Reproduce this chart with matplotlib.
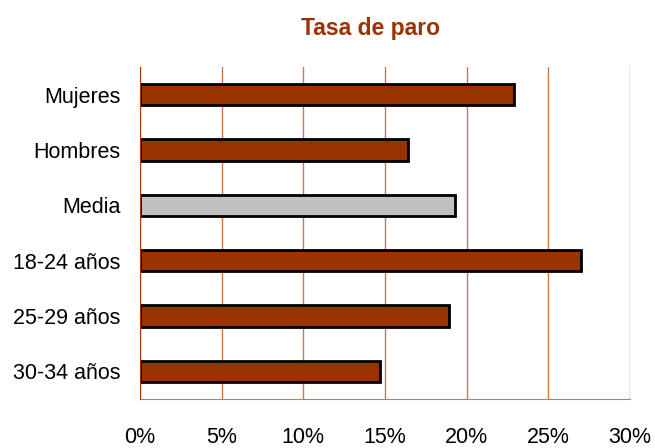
import matplotlib.pyplot as plt
from matplotlib import font_manager

# Data (unemployment rate, %)
categories = ["Mujeres", "Hombres", "Media", "18-24 años", "25-29 años", "30-34 años"]
values = [22.9, 16.4, 19.3, 27.0, 18.9, 14.7]
xticks = [0, 5, 10, 15, 20, 25, 30]

names = {f.name for f in font_manager.fontManager.ttflist}
family = "Liberation Sans Narrow" if "Liberation Sans Narrow" in names else "Liberation Sans"
plt.rcParams['font.family'] = [family, 'DejaVu Sans']

brown = '#993300'
grey = '#C0C0C0'
grid_col = '#C8784E'

fig = plt.figure(figsize=(6.55, 4.48), dpi=100)
ax = fig.add_axes([140 / 655, 1 - 399 / 448, 490 / 655, 332 / 448])

ypos = list(range(len(categories)))
colors = [grey if c == "Media" else brown for c in categories]
ax.barh(ypos, values, height=0.38, color=colors, edgecolor='black', linewidth=2, zorder=3)

ax.set_xlim(0, 30)
ax.set_ylim(len(categories) - 0.5, -0.5)
ax.set_xticks(xticks)
ax.set_xticklabels([f"{t}%" for t in xticks])
ax.set_yticks(ypos)
ax.set_yticklabels(categories)
ax.tick_params(axis='x', length=0, pad=20, labelsize=15.5)
ax.tick_params(axis='y', length=0, pad=14, labelsize=15.5)

ax.grid(axis='x', color=grid_col, linewidth=1, zorder=0)
ax.grid(axis='y', visible=False)
for side in ['top', 'right']:
    ax.spines[side].set_visible(False)
ax.spines['left'].set_color('#A33C0A')
ax.spines['bottom'].set_color(grid_col)
ax.spines['left'].set_zorder(4)

fig.text(370 / 655, 1 - 28 / 448, "Tasa de paro", ha='center', va='center',
         fontsize=16.5, fontweight='bold', color=brown)

fig.savefig("out.png", dpi=100)
